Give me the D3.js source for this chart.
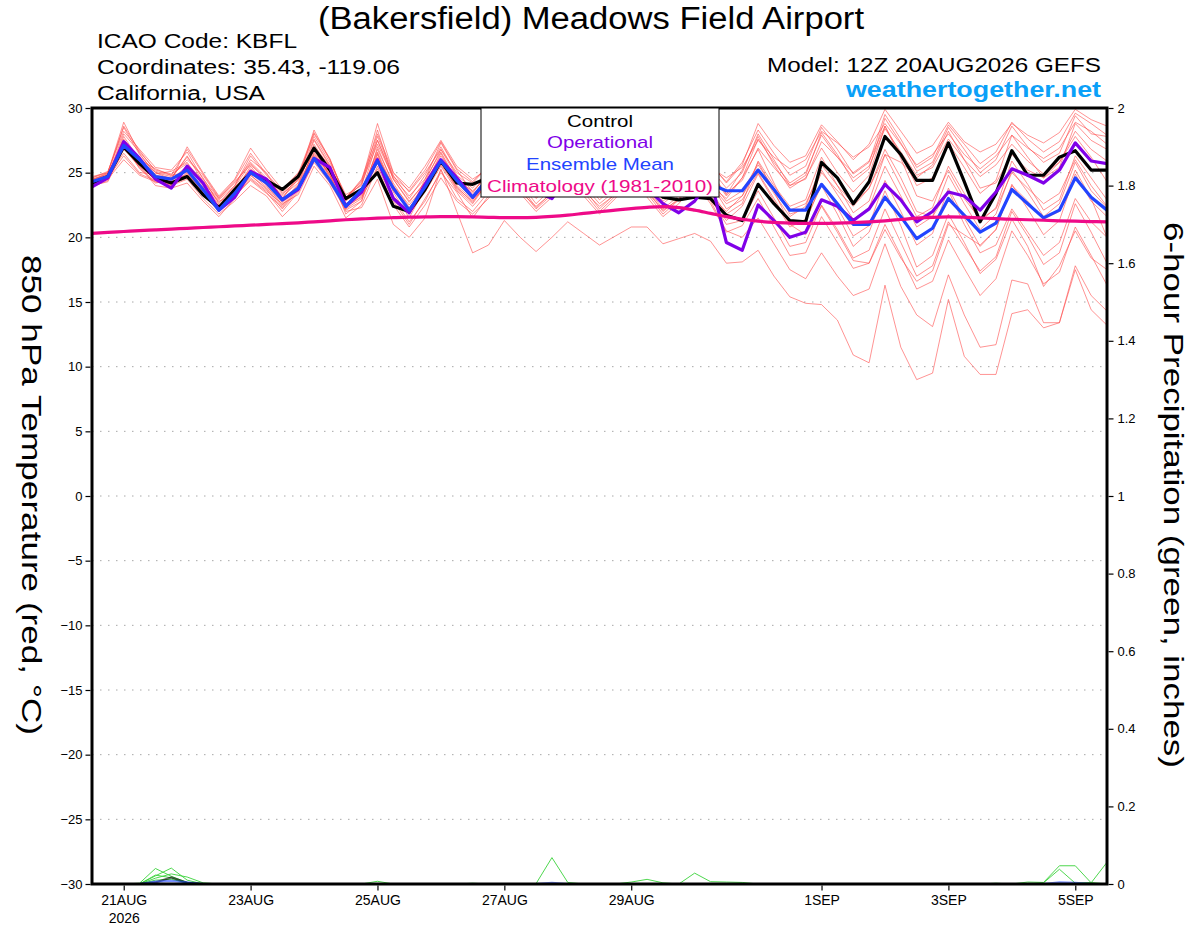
<!DOCTYPE html>
<html>
<head>
<meta charset="utf-8">
<script src="https://cdn.jsdelivr.net/npm/d3@7"></script>
<style>
  body { margin: 0; background: #fff; }
  svg { display: block; font-family: "Liberation Sans", Arial, sans-serif; }
</style>
</head>
<body>
<div id="chart"></div>
<script>
// GEFS run 12Z 20AUG2026, 6-hourly steps out to 5SEP 12Z (65 steps)
const runStart = Date.UTC(2026, 7, 20, 12)
const nSteps = 65

// 850 hPa temperature (C)
const control = [24.2,24.7,27.0,25.7,24.6,24.2,24.7,23.3,22.3,23.7,25.0,24.4,23.7,24.7,26.9,25.2,23.0,23.7,25.0,22.4,22.0,23.7,25.9,24.2,24.1,
  24.6,25.8,24.6,23.4,23.1,25.0,25.6,24.2,23.6,25.2,24.6,23.1,22.9,23.1,23.0,
  21.7,21.3,24.1,22.6,21.3,21.2,25.8,24.6,22.6,24.3,27.8,26.4,24.4,24.4,27.3,24.3,21.2,23.4,26.7,24.8,24.8,26.2,26.7,25.2,25.2]
const operational = [23.9,24.6,27.4,26.1,24.5,23.8,25.5,24.2,22.1,23.1,25.1,24.5,22.9,23.7,26.1,25.4,22.4,23.5,26.0,23.0,21.9,24.1,26.0,24.6,23.1,
  24.5,26.0,24.8,23.6,23.0,24.8,25.4,24.0,23.5,24.6,23.8,22.6,21.9,22.8,24.5,
  19.6,19.0,22.5,21.3,20.0,20.4,22.9,22.4,21.3,22.2,24.1,22.9,21.2,22.0,23.5,23.2,22.1,23.5,25.3,24.8,24.2,25.2,27.3,25.9,25.7]
const ensembleMean = [24.3,24.7,27.1,26.0,24.7,24.5,25.2,23.7,22.1,23.4,25.0,24.2,22.9,23.8,26.1,24.4,22.4,23.7,25.9,23.8,22.1,23.9,25.9,24.4,23.1,
  24.6,25.8,24.8,23.8,24.0,25.5,25.3,24.3,24.2,25.4,24.9,24.0,24.1,24.6,24.1,
  23.6,23.6,25.2,23.7,22.1,22.1,24.1,22.6,21.0,21.0,23.1,21.6,19.9,20.7,23.0,21.7,20.4,21.1,23.7,22.6,21.5,22.1,24.6,23.1,22.1]
const climatology = [20.30,20.38,20.45,20.52,20.58,20.64,20.70,20.76,20.82,20.88,
  20.94,21.00,21.06,21.12,21.20,21.28,21.36,21.42,21.48,21.52,
  21.56,21.58,21.60,21.60,21.58,21.55,21.52,21.52,21.55,21.62,
  21.72,21.85,21.98,22.10,22.22,22.32,22.38,22.30,22.10,21.85,
  21.60,21.40,21.25,21.15,21.10,21.08,21.08,21.10,21.14,21.20,
  21.28,21.38,21.48,21.55,21.58,21.56,21.50,21.44,21.40,21.36,
  21.32,21.28,21.25,21.22,21.20]

// ensemble members (red)
const m01 = [24.4,25.0,28.9,26.5,24.8,24.6,26.2,24.6,22.6,24.0,26.0,25.0,23.0,24.5,28.3,26.0,23.1,24.3,28.8,25.0,23.5,25.0,26.8,25.0,24.2,25.5,27.6,26.2,24.9,25.9,27.9,26.4,24.8,25.7,27.3,25.9,24.6,25.4,26.9,25.7,24.2,25.6,28.8,27.1,25.8,26.3,28.7,27.4,26.0,27.2,29.9,28.2,26.5,27.1,28.9,27.4,26.6,27.2,28.8,27.9,27.3,28.1,29.9,29.1,28.6]
const m02 = [24.0,24.6,27.8,26.0,25.3,24.8,25.0,23.8,22.0,23.5,25.5,24.0,22.5,24.0,27.5,25.5,22.5,23.5,27.5,24.5,22.8,24.2,26.3,24.6,23.2,24.8,26.8,25.3,23.8,25.0,26.9,25.6,24.0,25.1,26.6,25.2,23.5,24.6,26.2,24.9,23.2,24.6,27.6,25.8,24.2,25.0,27.9,26.2,24.6,25.5,28.4,26.6,24.8,25.4,27.6,26.0,24.7,25.6,27.2,25.9,24.9,25.8,28.2,26.8,25.9]
const m03 = [24.5,24.9,27.3,25.3,24.2,24.4,27.0,25.0,23.2,24.5,26.9,25.2,23.7,25.0,26.8,24.8,22.2,23.0,26.5,23.5,21.5,23.8,26.0,23.8,22.8,24.2,26.0,24.5,23.0,24.1,25.8,24.7,23.3,24.4,25.9,24.3,22.8,23.7,25.4,24.0,23.0,24.6,26.8,24.2,21.8,22.2,25.0,23.6,22.4,23.8,26.4,25.8,24.6,25.6,28.2,26.0,23.8,24.2,26.4,25.2,24.6,25.8,27.8,26.2,24.3]
const m04 = [24.2,24.8,26.5,25.0,24.9,25.1,25.8,24.0,22.8,23.2,24.5,23.5,22.0,23.5,27.0,25.0,21.8,22.8,27.0,24.0,22.0,24.5,27.3,25.2,23.5,25.0,27.2,25.6,24.0,25.3,27.0,25.4,23.9,24.9,26.8,25.3,23.7,24.9,26.4,25.1,23.3,25.2,27.8,25.6,23.8,24.6,26.9,25.0,23.5,24.8,28.6,26.4,24.0,24.6,27.3,25.4,23.4,24.4,27.9,26.2,24.6,25.4,28.8,27.5,26.8]
const m05 = [24.1,24.5,26.0,24.8,24.3,24.0,24.5,23.0,21.8,22.8,24.0,23.2,21.6,22.8,25.5,24.0,21.5,22.5,25.5,22.8,21.0,23.0,25.0,23.5,21.5,23.2,25.0,23.4,22.0,23.1,24.6,23.2,21.8,23.0,24.7,23.1,21.6,22.6,24.2,22.9,21.3,22.4,24.9,22.8,20.8,21.4,24.0,21.8,19.3,20.4,23.6,20.9,17.7,18.6,21.8,19.6,17.2,18.3,21.4,19.3,16.2,17.8,20.5,18.4,17.5]
const m06 = [24.6,25.1,28.2,26.8,25.4,25.2,26.6,24.5,23.0,24.2,25.8,24.6,23.5,24.6,28.0,26.0,23.0,24.5,28.0,25.0,23.8,25.5,27.5,25.5,24.5,25.3,27.3,25.8,24.4,25.5,27.4,25.7,24.3,25.3,27.1,25.6,24.0,25.2,26.8,25.3,23.8,25.0,28.0,26.0,24.0,24.8,28.1,26.4,24.3,25.3,29.2,27.3,25.1,25.8,28.5,26.8,25.0,26.0,28.6,27.0,25.8,26.5,29.4,28.0,27.8]
const m07 = [23.9,24.4,27.2,25.5,24.0,23.8,24.2,22.8,21.6,23.0,24.8,23.8,22.4,23.8,26.2,24.5,22.0,22.3,24.5,21.0,20.0,21.5,25.3,22.0,18.8,19.4,21.3,20.0,18.9,20.0,21.2,20.3,19.4,20.1,20.8,20.8,19.5,19.9,20.3,19.7,18.0,18.1,19.0,17.0,15.4,14.9,14.8,13.6,10.9,10.3,16.3,11.5,9.0,9.5,15.2,10.8,9.4,9.4,14.1,14.4,13.0,13.4,17.5,14.4,13.2]
const m08 = [24.3,24.7,27.5,26.2,25.0,24.5,25.5,24.2,22.5,23.8,25.3,24.3,23.2,24.2,27.2,25.3,22.8,23.8,26.2,24.0,22.5,24.0,26.5,24.2,23.0,24.0,25.8,24.2,22.6,23.8,25.4,24.0,22.6,23.6,25.2,23.8,22.2,23.2,24.6,22.8,20.5,20.0,21.5,19.5,17.5,16.8,18.8,17.0,15.5,16.0,19.5,16.2,14.0,13.1,17.1,14.0,11.5,11.7,16.7,16.4,13.4,13.4,17.8,15.5,14.3]
const m09 = [24.0,24.3,26.8,25.5,24.5,24.0,25.0,23.5,22.2,23.3,24.8,23.7,22.2,23.6,26.5,24.8,22.3,23.2,25.8,23.2,21.8,23.5,25.5,23.6,22.4,23.8,25.6,24.0,22.3,23.5,25.3,23.8,22.2,23.4,25.0,23.7,22.0,23.0,24.8,23.2,22.0,23.2,25.8,23.6,21.0,20.2,22.4,20.4,18.2,18.0,20.6,18.4,16.6,17.4,21.0,20.2,19.4,20.6,24.0,22.8,21.4,22.0,25.2,23.0,20.0]
const m10 = [24.7,25.0,28.5,26.4,25.0,24.7,26.0,24.8,23.0,24.3,25.6,24.5,23.0,24.8,27.8,25.8,23.3,24.0,27.8,24.8,23.0,24.8,27.0,24.8,23.8,25.2,27.0,25.5,24.2,25.4,27.2,25.9,24.5,25.4,27.0,25.8,24.4,25.0,26.6,25.4,24.6,25.4,27.5,26.2,25.3,26.0,28.2,27.3,26.2,27.0,28.8,27.2,25.6,26.4,28.0,26.4,25.3,26.3,27.9,26.9,26.1,26.9,28.9,28.2,27.2]
const m11 = [24.2,24.6,27.0,25.8,24.6,24.3,25.3,23.9,22.4,23.6,25.2,24.2,22.8,24.1,26.6,25.0,22.6,23.4,26.8,24.2,22.3,23.8,26.0,24.0,22.9,24.5,26.3,24.9,23.4,24.6,26.2,24.9,23.6,24.7,26.3,24.8,23.2,24.2,25.8,24.4,22.8,23.6,25.6,23.8,22.1,22.6,25.2,23.3,21.4,22.3,25.5,23.2,20.8,21.6,24.8,22.6,20.6,21.8,25.2,23.5,21.6,22.6,25.8,23.6,22.3]
const m12 = [24.4,24.9,27.6,26.0,24.7,24.5,26.3,24.3,22.9,24.0,26.3,24.8,23.4,24.4,27.0,25.5,22.9,24.2,27.2,24.6,23.2,24.5,26.6,24.4,23.6,24.7,26.5,25.1,23.7,24.8,26.4,25.0,23.4,24.5,26.1,24.6,23.0,24.0,25.6,24.2,22.2,22.9,25.0,23.0,21.0,21.2,24.2,22.3,20.1,20.9,24.4,22.0,19.4,20.3,23.8,21.5,19.3,20.6,24.1,22.2,20.2,21.3,24.9,22.8,21.6]
const m13 = [24.1,24.6,26.3,24.9,24.4,24.3,24.8,23.3,22.0,23.4,24.6,23.6,22.6,23.3,25.8,24.2,22.1,22.8,26.0,23.0,21.2,22.8,25.2,23.0,22.0,23.5,25.2,23.7,22.2,23.3,25.0,23.5,22.0,23.2,24.8,23.4,21.8,22.9,24.4,23.0,21.0,21.3,23.6,21.5,19.3,19.6,22.5,20.6,18.4,19.0,22.2,19.6,17.0,17.8,21.2,19.3,17.4,18.5,22.0,20.1,17.9,18.8,22.6,20.4,18.0]
const m14 = [24.5,24.8,28.0,26.6,25.2,24.9,25.7,24.4,22.7,23.9,25.7,24.4,23.3,24.5,27.6,25.6,23.1,24.1,28.3,24.5,22.7,24.3,26.8,24.7,23.4,25.1,27.1,25.4,23.9,25.0,26.8,25.2,23.8,24.9,26.6,25.1,23.6,24.6,26.2,24.8,23.4,24.4,26.9,25.4,24.0,24.5,27.4,26.2,25.0,25.9,28.6,26.1,23.2,22.8,25.2,23.0,21.4,22.2,25.0,23.8,22.6,23.4,26.0,24.0,22.4]
const m15 = [24.3,24.7,27.4,25.7,24.5,24.1,25.2,23.7,22.3,23.5,25.1,24.1,22.9,24.0,26.4,24.9,22.6,23.3,26.4,23.6,22.2,23.9,25.8,23.7,22.6,24.3,26.1,24.6,23.1,24.3,26.0,24.4,22.9,24.0,25.7,24.2,22.6,23.6,25.2,23.6,21.8,22.6,25.9,24.0,22.4,22.9,26.2,24.0,21.9,22.8,26.4,24.0,21.6,22.3,25.5,23.4,21.2,22.3,25.9,24.1,22.1,22.9,26.3,24.6,22.9]
const m16 = [24.2,24.6,26.9,25.4,24.3,24.2,24.9,23.6,22.1,23.2,24.4,23.4,22.3,23.7,26.9,24.6,22.4,23.1,25.3,22.5,20.8,22.5,24.6,22.8,21.8,23.0,24.8,23.5,22.4,23.4,24.9,23.6,22.4,23.3,24.9,23.5,22.1,22.9,24.3,22.6,20.4,20.9,23.0,20.8,18.6,18.8,21.6,19.6,17.6,18.0,21.0,18.6,16.0,16.6,19.8,17.6,15.5,16.8,20.5,18.6,16.4,17.3,20.8,18.6,16.3]
const m17 = [24.6,25.0,28.6,26.7,25.1,24.8,26.8,24.9,23.1,24.4,26.5,24.9,23.6,24.9,28.1,26.1,23.0,24.4,27.5,24.7,23.6,25.2,27.4,25.3,24.3,25.6,27.4,26.0,24.6,25.7,27.6,26.1,24.6,25.6,27.2,25.8,24.2,25.3,26.9,25.6,24.3,25.8,28.3,26.5,24.8,25.5,28.5,26.8,24.9,25.8,29.5,27.6,25.4,26.2,28.7,27.2,25.7,26.6,28.9,27.6,26.6,27.4,29.6,28.8,27.9]
const m18 = [24.0,24.5,27.1,25.6,24.4,24.1,24.6,23.4,22.1,23.4,25.0,23.9,22.7,23.9,26.3,24.7,22.2,23.6,26.6,23.8,22.1,23.7,25.6,23.9,22.7,24.4,26.2,24.8,23.3,24.5,26.1,24.7,23.2,24.3,25.9,24.5,23.0,24.0,25.5,24.1,22.6,23.2,25.3,23.4,21.6,22.4,25.6,24.0,22.6,23.8,26.8,24.6,22.0,21.6,23.6,21.0,18.8,19.4,22.2,20.4,18.6,19.6,23.0,21.2,20.0]
const members = [m01,m02,m03,m04,m05,m06,m07,m08,m09,m10,m11,m12,m13,m14,m15,m16,m17,m18]

// 6-hour precipitation (inches), [step, value] for the steps that are not zero
const precipMembers = [
  [[3,0.002],[4,0.040],[5,0.020],[6,0.004]],
  [[4,0.021],[5,0.041],[6,0.010]],
  [[4,0.015],[5,0.026],[6,0.018],[7,0.003]],
  [[4,0.023],[5,0.016],[6,0.004],[18,0.007]],
  [[4,0.010],[5,0.012],[6,0.003],[24,0.002]],
  [[28,0.001],[29,0.068],[30,0.004],[34,0.005],[35,0.012],[36,0.003],[38,0.028],[39,0.006],[40,0.005],[41,0.004]],
  [[59,0.005],[60,0.004],[61,0.047],[62,0.047],[63,0.003],[64,0.056]],
  [[57,0.002],[60,0.003],[61,0.038],[62,0.002],[63,0.004]]
]
const precipControl = [[4,0.004],[5,0.017],[6,0.003]]
const precipOperational = []
const precipMean = [[4,0.006],[5,0.008],[6,0.004],[29,0.003],[61,0.004],[62,0.003]]

// axis ticks
const tempTicks = [-30,-25,-20,-15,-10,-5,0,5,10,15,20,25,30]
const precipTicks = [0,0.2,0.4,0.6,0.8,1,1.2,1.4,1.6,1.8,2]
const dateTicks = ["2026-08-21","2026-08-23","2026-08-25","2026-08-27","2026-08-29","2026-09-01","2026-09-03","2026-09-05"]
const dateLabels = ["21AUG","23AUG","25AUG","27AUG","29AUG","1SEP","3SEP","5SEP"]

const times = d3.range(nSteps).map(i => new Date(runStart + i * 6 * 3600 * 1000))
const fullSeries = pairs => {
  const a = new Array(nSteps).fill(0)
  pairs.forEach(([i, v]) => { a[i] = v })
  return a
}

const W = 1200, H = 927
const plot = { left: 92, right: 1107, top: 108, bottom: 884 }

const svg = d3.select("#chart").append("svg").attr("width", W).attr("height", H)
svg.append("rect").attr("width", W).attr("height", H).attr("fill", "#fff")

const x = d3.scaleUtc().domain([times[0], times[nSteps - 1]]).range([plot.left, plot.right])
const yT = d3.scaleLinear().domain([-30, 30]).range([plot.bottom, plot.top])
const yP = d3.scaleLinear().domain([0, 2]).range([plot.bottom, plot.top])

svg.append("clipPath").attr("id", "clip").append("rect")
  .attr("x", plot.left).attr("y", plot.top - 2)
  .attr("width", plot.right - plot.left).attr("height", plot.bottom - plot.top + 2)

// dotted grid
svg.append("g").selectAll("line").data(tempTicks.filter(t => t > -30 && t < 30)).join("line")
  .attr("x1", plot.left).attr("x2", plot.right)
  .attr("y1", d => yT(d)).attr("y2", d => yT(d))
  .attr("stroke", "#a8a8a8").attr("stroke-width", 1).attr("stroke-dasharray", "1.5,6.5")

const tLine = d3.line().x((d, i) => x(times[i])).y(d => yT(d))
const pLine = d3.line().x((d, i) => x(times[i])).y(d => yP(d))

const g = svg.append("g").attr("clip-path", "url(#clip)")
g.selectAll(".member").data(members).join("path")
  .attr("d", tLine).attr("fill", "none")
  .attr("stroke", "#ff4a4a").attr("stroke-width", 0.8).attr("stroke-opacity", 0.75)

g.selectAll(".pm").data(precipMembers.map(fullSeries)).join("path")
  .attr("d", pLine).attr("fill", "none")
  .attr("stroke", "#3ad23a").attr("stroke-width", 0.9)

const heavy = [
  { t: control, p: precipControl, color: "#000000" },
  { t: operational, p: precipOperational, color: "#8000e8" },
  { t: ensembleMean, p: precipMean, color: "#2244ff" }
]
heavy.forEach(s => {
  g.append("path").attr("d", pLine(fullSeries(s.p))).attr("fill", "none")
    .attr("stroke", s.color).attr("stroke-width", 2.2).attr("stroke-opacity", 0.6)
})
heavy.forEach(s => {
  g.append("path").attr("d", tLine(s.t)).attr("fill", "none")
    .attr("stroke", s.color).attr("stroke-width", 3.2).attr("stroke-linejoin", "round")
})
g.append("path").attr("d", d3.line().x((d, i) => x(times[i])).y(d => yT(d)).curve(d3.curveMonotoneX)(climatology))
  .attr("fill", "none").attr("stroke", "#ee0a88").attr("stroke-width", 3.2)

// frame
svg.append("rect").attr("x", plot.left).attr("y", plot.top)
  .attr("width", plot.right - plot.left).attr("height", plot.bottom - plot.top)
  .attr("fill", "none").attr("stroke", "#000").attr("stroke-width", 3)

// axes
const leftAxis = svg.append("g").attr("transform", `translate(${plot.left - 1.5},0)`)
  .call(d3.axisLeft(yT).tickValues(tempTicks).tickSize(5).tickPadding(3))
const rightAxis = svg.append("g").attr("transform", `translate(${plot.right + 1.5},0)`)
  .call(d3.axisRight(yP).tickValues(precipTicks).tickFormat(d => String(d)).tickSize(5).tickPadding(4))
const bottomAxis = svg.append("g").attr("transform", `translate(0,${plot.bottom + 1.5})`)
  .call(d3.axisBottom(x).tickValues(dateTicks.map(d => new Date(d + "T00:00:00Z")))
    .tickFormat((d, i) => dateLabels[i]).tickSize(5).tickPadding(5))
;[leftAxis, rightAxis, bottomAxis].forEach(a => {
  a.select(".domain").remove()
  a.attr("font-family", null).attr("font-size", 13)
  a.selectAll("line").attr("stroke", "#000").attr("stroke-width", 1.2)
  a.selectAll("text").attr("fill", "#000")
})
bottomAxis.attr("font-size", 14)
bottomAxis.select(".tick text").append("tspan").attr("x", 0).attr("dy", "1.25em").text("2026")

// legend
const legend = svg.append("g")
legend.append("rect").attr("x", 481).attr("y", plot.top).attr("width", 238).attr("height", 89)
  .attr("fill", "#fff").attr("stroke", "#000").attr("stroke-width", 1)
const legendItems = [
  { label: "Control", color: "#000000", y: 127, w: 66 },
  { label: "Operational", color: "#8000e8", y: 148, w: 106 },
  { label: "Ensemble Mean", color: "#2244ff", y: 170, w: 148 },
  { label: "Climatology (1981-2010)", color: "#ee0a88", y: 192, w: 226 }
]
legend.selectAll("text").data(legendItems).join("text")
  .attr("x", 600).attr("y", d => d.y).attr("text-anchor", "middle")
  .attr("font-size", 17).attr("fill", d => d.color)
  .attr("textLength", d => d.w).attr("lengthAdjust", "spacingAndGlyphs")
  .text(d => d.label)

// headings
const texts = [
  { s: "(Bakersfield) Meadows Field Airport", x: 591, y: 29, size: 31, w: 546, anchor: "middle", color: "#000" },
  { s: "ICAO Code: KBFL", x: 97, y: 48, size: 20, w: 200, anchor: "start", color: "#000" },
  { s: "Coordinates: 35.43, -119.06", x: 97, y: 74, size: 20, w: 303, anchor: "start", color: "#000" },
  { s: "California, USA", x: 97, y: 100, size: 20, w: 168, anchor: "start", color: "#000" },
  { s: "Model: 12Z 20AUG2026 GEFS", x: 1101, y: 72, size: 20, w: 334, anchor: "end", color: "#000" },
  { s: "weathertogether.net", x: 1101, y: 97, size: 22, w: 255, anchor: "end", color: "#0aa0f8", bold: true }
]
svg.append("g").selectAll("text").data(texts).join("text")
  .attr("x", d => d.x).attr("y", d => d.y).attr("text-anchor", d => d.anchor)
  .attr("font-size", d => d.size).attr("fill", d => d.color)
  .attr("font-weight", d => d.bold ? "bold" : null)
  .attr("textLength", d => d.w).attr("lengthAdjust", "spacingAndGlyphs")
  .text(d => d.s)

// axis titles, rotated to read downward
svg.append("text").attr("transform", "translate(22,495) rotate(90)")
  .attr("text-anchor", "middle").attr("font-size", 28)
  .attr("textLength", 480).attr("lengthAdjust", "spacingAndGlyphs")
  .text("850 hPa Temperature (red, °C)")
svg.append("text").attr("transform", "translate(1164,495) rotate(90)")
  .attr("text-anchor", "middle").attr("font-size", 28)
  .attr("textLength", 546).attr("lengthAdjust", "spacingAndGlyphs")
  .text("6-hour Precipitation (green, inches)")
</script>
</body>
</html>
